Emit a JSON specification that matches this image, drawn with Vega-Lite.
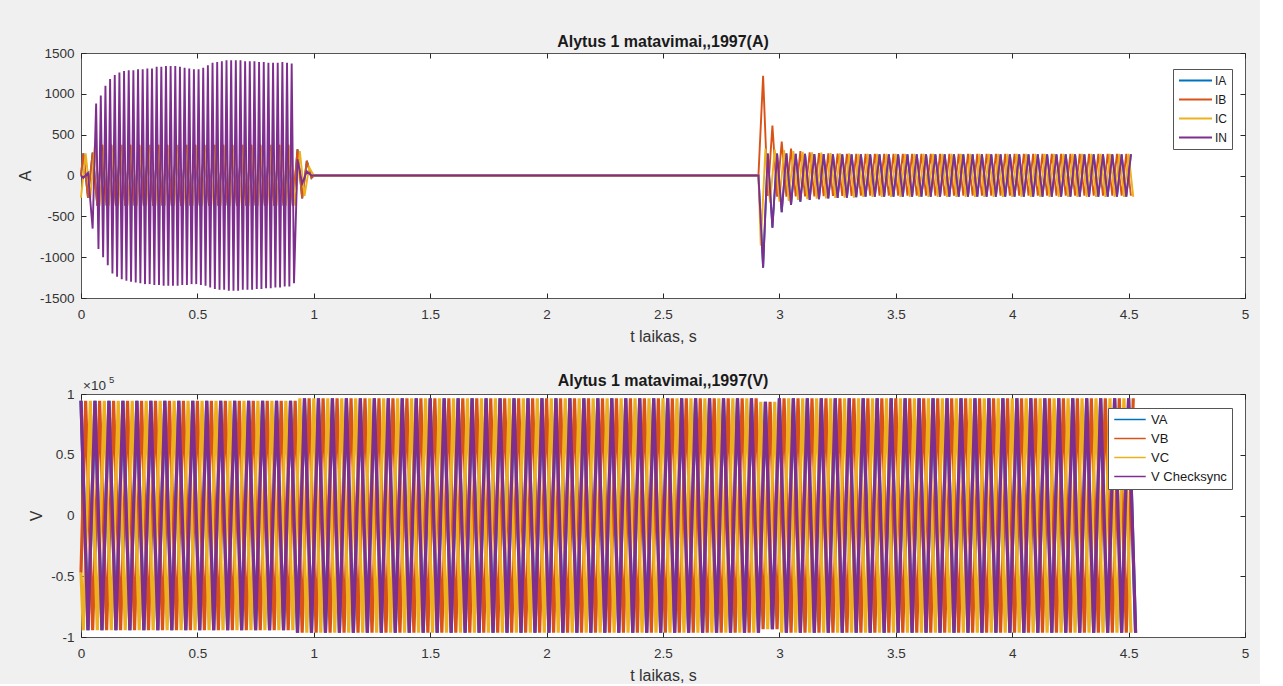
{
"$schema":"https://vega.github.io/schema/vega-lite/v6.json",
"background":"#f0f0f0",
"padding":{"left":16,"top":33,"right":10,"bottom":0},
"bounds":"flush",
"spacing":96,
"config":{
 "font":"Liberation Sans",
 "view":{"fill":"white","stroke":"#555555","strokeWidth":1},
 "axis":{"grid":false,"domain":false,"ticks":true,"tickColor":"#262626","tickSize":-5,"tickWidth":1,"labelColor":"#333333","labelFontSize":13.5,"titleColor":"#333333","titleFontSize":16,"titleFontWeight":"normal","labelFlush":false,"labelOverlap":false},
 "axisX":{"labelPadding":14,"titlePadding":8},
 "axisY":{"labelPadding":12,"minExtent":44,"maxExtent":44},
 "title":{"fontSize":16,"fontWeight":"bold","color":"#1a1a1a","anchor":"middle","frame":"group","baseline":"alphabetic"},
 "legend":{"orient":"none","symbolStrokeWidth":1.5,"labelFontSize":12,"labelColor":"#1a1a1a","fillColor":"white","strokeColor":"#555555","padding":5,"rowPadding":6}
},
"resolve":{"scale":{"color":"independent","y":"independent","strokeWidth":"independent"},"legend":{"color":"independent"}},
"vconcat":[
{
 "width":1164,"height":245,
 "title":{"text":"Alytus 1 matavimai,,1997(A)","offset":-4},
 "resolve":{"axis":{"x":"independent","y":"independent"}},
 "layer":[
 {
 "data":{"values":[
{"t":0,"IA":0,"IB":0,"IC":-270,"IN":0},{"t":0.01,"IA":270,"IB":270,"IN":-30},{"t":0.02,"IC":270},{"t":0.03,"IA":-270,"IB":-270,"IN":30},{"t":0.04,"IC":-270},{"t":0.05,"IA":280,"IB":280,"IN":-650},
{"t":0.06,"IC":375},{"t":0.07,"IA":-370,"IB":-370},{"t":0.08,"IC":-370},{"t":0.09,"IA":375,"IB":375},
{"t":0.10,"IC":375},{"t":0.11,"IA":-370,"IB":-370},{"t":0.12,"IC":-370},{"t":0.13,"IA":375,"IB":375},
{"t":0.14,"IC":375},{"t":0.15,"IA":-370,"IB":-370},{"t":0.16,"IC":-370},{"t":0.17,"IA":375,"IB":375},
{"t":0.18,"IC":375},{"t":0.19,"IA":-370,"IB":-370},{"t":0.20,"IC":-370},{"t":0.21,"IA":375,"IB":375},
{"t":0.22,"IC":375},{"t":0.23,"IA":-370,"IB":-370},{"t":0.24,"IC":-370},{"t":0.25,"IA":375,"IB":375},
{"t":0.26,"IC":375},{"t":0.27,"IA":-370,"IB":-370},{"t":0.28,"IC":-370},{"t":0.29,"IA":375,"IB":375},
{"t":0.30,"IC":375},{"t":0.31,"IA":-370,"IB":-370},{"t":0.32,"IC":-370},{"t":0.33,"IA":375,"IB":375},
{"t":0.34,"IC":375},{"t":0.35,"IA":-370,"IB":-370},{"t":0.36,"IC":-370},{"t":0.37,"IA":375,"IB":375},
{"t":0.38,"IC":375},{"t":0.39,"IA":-370,"IB":-370},{"t":0.40,"IC":-370},{"t":0.41,"IA":375,"IB":375},
{"t":0.42,"IC":375},{"t":0.43,"IA":-370,"IB":-370},{"t":0.44,"IC":-370},{"t":0.45,"IA":375,"IB":375},
{"t":0.46,"IC":375},{"t":0.47,"IA":-370,"IB":-370},{"t":0.48,"IC":-370},{"t":0.49,"IA":375,"IB":375},
{"t":0.50,"IC":375},{"t":0.51,"IA":-370,"IB":-370},{"t":0.52,"IC":-370},{"t":0.53,"IA":375,"IB":375},
{"t":0.54,"IC":375},{"t":0.55,"IA":-370,"IB":-370},{"t":0.56,"IC":-370},{"t":0.57,"IA":375,"IB":375},
{"t":0.58,"IC":375},{"t":0.59,"IA":-370,"IB":-370},{"t":0.60,"IC":-370},{"t":0.61,"IA":375,"IB":375},
{"t":0.62,"IC":375},{"t":0.63,"IA":-370,"IB":-370},{"t":0.64,"IC":-370},{"t":0.65,"IA":375,"IB":375},
{"t":0.66,"IC":375},{"t":0.67,"IA":-370,"IB":-370},{"t":0.68,"IC":-370},{"t":0.69,"IA":375,"IB":375},
{"t":0.70,"IC":375},{"t":0.71,"IA":-370,"IB":-370},{"t":0.72,"IC":-370},{"t":0.73,"IA":375,"IB":375},
{"t":0.74,"IC":375},{"t":0.75,"IA":-370,"IB":-370},{"t":0.76,"IC":-370},{"t":0.77,"IA":375,"IB":375},
{"t":0.78,"IC":375},{"t":0.79,"IA":-370,"IB":-370},{"t":0.80,"IC":-370},{"t":0.81,"IA":375,"IB":375},
{"t":0.82,"IC":375},{"t":0.83,"IA":-370,"IB":-370},{"t":0.84,"IC":-370},{"t":0.85,"IA":375,"IB":375},
{"t":0.86,"IC":375},{"t":0.87,"IA":-370,"IB":-370},{"t":0.88,"IC":-370},{"t":0.89,"IA":375,"IB":375},
{"t":0.90,"IC":375},{"t":0.91,"IA":-370,"IB":-370},{"t":0.92,"IC":-370},{"t":0.93,"IA":320,"IB":320,"IN":200},
{"t":0.94,"IC":300},{"t":0.95,"IA":-280,"IB":-280,"IN":-100},{"t":0.96,"IC":-250},{"t":0.97,"IA":180,"IB":180,"IN":50},{"t":0.98,"IC":100},{"t":0.99,"IA":-30,"IB":-30,"IN":0},
{"t":1.00,"IA":0,"IB":0,"IC":0,"IN":0},{"t":2.91,"IA":0,"IB":0,"IC":0,"IN":0},
{"t":0.065,"IN":880},{"t":0.075,"IN":-900},{"t":0.085,"IN":980},{"t":0.095,"IN":-1000},{"t":0.105,"IN":1100},{"t":0.115,"IN":-1100},{"t":0.125,"IN":1180},{"t":0.135,"IN":-1200},{"t":0.145,"IN":1230},{"t":0.155,"IN":-1240},
{"t":0.165,"IN":1260},{"t":0.175,"IN":-1270},{"t":0.185,"IN":1280},{"t":0.195,"IN":-1290},{"t":0.205,"IN":1290},{"t":0.215,"IN":-1300},{"t":0.225,"IN":1290},{"t":0.235,"IN":-1310},{"t":0.245,"IN":1300},{"t":0.255,"IN":-1320},
{"t":0.265,"IN":1300},{"t":0.275,"IN":-1330},{"t":0.285,"IN":1310},{"t":0.295,"IN":-1330},{"t":0.305,"IN":1310},{"t":0.315,"IN":-1340},{"t":0.325,"IN":1330},{"t":0.335,"IN":-1340},{"t":0.345,"IN":1330},{"t":0.355,"IN":-1350},
{"t":0.365,"IN":1340},{"t":0.375,"IN":-1350},{"t":0.385,"IN":1340},{"t":0.395,"IN":-1350},{"t":0.405,"IN":1340},{"t":0.415,"IN":-1350},{"t":0.425,"IN":1330},{"t":0.435,"IN":-1340},{"t":0.445,"IN":1320},{"t":0.455,"IN":-1340},
{"t":0.465,"IN":1310},{"t":0.475,"IN":-1330},{"t":0.485,"IN":1300},{"t":0.495,"IN":-1330},{"t":0.505,"IN":1300},{"t":0.515,"IN":-1340},{"t":0.525,"IN":1320},{"t":0.535,"IN":-1350},{"t":0.545,"IN":1350},{"t":0.555,"IN":-1370},
{"t":0.565,"IN":1380},{"t":0.575,"IN":-1390},{"t":0.585,"IN":1390},{"t":0.595,"IN":-1400},{"t":0.605,"IN":1400},{"t":0.615,"IN":-1400},{"t":0.625,"IN":1410},{"t":0.635,"IN":-1410},{"t":0.645,"IN":1410},{"t":0.655,"IN":-1410},
{"t":0.665,"IN":1410},{"t":0.675,"IN":-1410},{"t":0.685,"IN":1410},{"t":0.695,"IN":-1400},{"t":0.705,"IN":1400},{"t":0.715,"IN":-1400},{"t":0.725,"IN":1400},{"t":0.735,"IN":-1400},{"t":0.745,"IN":1400},{"t":0.755,"IN":-1390},
{"t":0.765,"IN":1390},{"t":0.775,"IN":-1390},{"t":0.785,"IN":1390},{"t":0.795,"IN":-1380},{"t":0.805,"IN":1380},{"t":0.815,"IN":-1380},{"t":0.825,"IN":1380},{"t":0.835,"IN":-1370},{"t":0.845,"IN":1380},{"t":0.855,"IN":-1370},
{"t":0.865,"IN":1390},{"t":0.875,"IN":-1360},{"t":0.885,"IN":1380},{"t":0.895,"IN":-1360},{"t":0.905,"IN":1370},{"t":0.915,"IN":-1320},
{"t":2.92,"IC":-860},{"t":2.93,"IA":-1130,"IB":1220,"IN":-1130},{"t":2.94,"IC":330},{"t":2.95,"IA":270,"IB":-250,"IN":270},{"t":2.96,"IC":-330},{"t":2.97,"IA":-640,"IB":610,"IN":-640},{"t":2.98,"IC":320},{"t":2.99,"IA":270,"IB":-260,"IN":270},
{"t":3.00,"IC":-320},{"t":3.01,"IA":-450,"IB":414,"IN":-450},{"t":3.02,"IC":310},{"t":3.03,"IA":270,"IB":-260,"IN":270},{"t":3.04,"IC":-310},{"t":3.05,"IA":-360,"IB":330,"IN":-360},{"t":3.06,"IC":300},{"t":3.07,"IA":265,"IB":-255,"IN":265},
{"t":3.08,"IC":-300},{"t":3.09,"IA":-320,"IB":300,"IN":-320},{"t":3.10,"IC":290},{"t":3.11,"IA":265,"IB":-255,"IN":265},{"t":3.12,"IC":-290},{"t":3.13,"IA":-300,"IB":285,"IN":-300},{"t":3.14,"IC":285},{"t":3.15,"IA":262,"IB":-255,"IN":262},
{"t":3.16,"IC":-285},{"t":3.17,"IA":-290,"IB":275,"IN":-290},{"t":3.18,"IC":280},{"t":3.19,"IA":262,"IB":-252,"IN":262},{"t":3.20,"IC":-280},{"t":3.21,"IA":-280,"IB":270,"IN":-280},{"t":3.22,"IC":275},{"t":3.23,"IA":260,"IB":-250,"IN":260},
{"t":3.24,"IC":-275},{"t":3.25,"IA":-275,"IB":268,"IN":-275},{"t":3.26,"IC":272},{"t":3.27,"IA":260,"IB":-250,"IN":260},{"t":3.28,"IC":-272},{"t":3.29,"IA":-270,"IB":266,"IN":-270},{"t":3.30,"IC":270},{"t":3.31,"IA":260,"IB":-250,"IN":260},
{"t":3.32,"IC":-270},{"t":3.33,"IA":-266,"IB":265,"IN":-266},{"t":3.34,"IC":265},{"t":3.35,"IA":260,"IB":-248,"IN":260},
{"t":3.36,"IC":-262},{"t":3.37,"IA":-258,"IB":264,"IN":-258},{"t":3.38,"IC":265},{"t":3.39,"IA":260,"IB":-248,"IN":260},
{"t":3.40,"IC":-262},{"t":3.41,"IA":-258,"IB":264,"IN":-258},{"t":3.42,"IC":265},{"t":3.43,"IA":260,"IB":-248,"IN":260},
{"t":3.44,"IC":-262},{"t":3.45,"IA":-258,"IB":264,"IN":-258},{"t":3.46,"IC":265},{"t":3.47,"IA":260,"IB":-248,"IN":260},
{"t":3.48,"IC":-262},{"t":3.49,"IA":-258,"IB":264,"IN":-258},{"t":3.50,"IC":265},{"t":3.51,"IA":260,"IB":-248,"IN":260},
{"t":3.52,"IC":-262},{"t":3.53,"IA":-258,"IB":264,"IN":-258},{"t":3.54,"IC":265},{"t":3.55,"IA":260,"IB":-248,"IN":260},
{"t":3.56,"IC":-262},{"t":3.57,"IA":-258,"IB":264,"IN":-258},{"t":3.58,"IC":265},{"t":3.59,"IA":260,"IB":-248,"IN":260},
{"t":3.60,"IC":-262},{"t":3.61,"IA":-258,"IB":264,"IN":-258},{"t":3.62,"IC":265},{"t":3.63,"IA":260,"IB":-248,"IN":260},
{"t":3.64,"IC":-262},{"t":3.65,"IA":-258,"IB":264,"IN":-258},{"t":3.66,"IC":265},{"t":3.67,"IA":260,"IB":-248,"IN":260},
{"t":3.68,"IC":-262},{"t":3.69,"IA":-258,"IB":264,"IN":-258},{"t":3.70,"IC":265},{"t":3.71,"IA":260,"IB":-248,"IN":260},
{"t":3.72,"IC":-262},{"t":3.73,"IA":-258,"IB":264,"IN":-258},{"t":3.74,"IC":265},{"t":3.75,"IA":260,"IB":-248,"IN":260},
{"t":3.76,"IC":-262},{"t":3.77,"IA":-258,"IB":264,"IN":-258},{"t":3.78,"IC":265},{"t":3.79,"IA":260,"IB":-248,"IN":260},
{"t":3.80,"IC":-262},{"t":3.81,"IA":-258,"IB":264,"IN":-258},{"t":3.82,"IC":265},{"t":3.83,"IA":260,"IB":-248,"IN":260},
{"t":3.84,"IC":-262},{"t":3.85,"IA":-258,"IB":264,"IN":-258},{"t":3.86,"IC":265},{"t":3.87,"IA":260,"IB":-248,"IN":260},
{"t":3.88,"IC":-262},{"t":3.89,"IA":-258,"IB":264,"IN":-258},{"t":3.90,"IC":265},{"t":3.91,"IA":260,"IB":-248,"IN":260},
{"t":3.92,"IC":-262},{"t":3.93,"IA":-258,"IB":264,"IN":-258},{"t":3.94,"IC":265},{"t":3.95,"IA":260,"IB":-248,"IN":260},
{"t":3.96,"IC":-262},{"t":3.97,"IA":-258,"IB":264,"IN":-258},{"t":3.98,"IC":265},{"t":3.99,"IA":260,"IB":-248,"IN":260},
{"t":4.00,"IC":-262},{"t":4.01,"IA":-258,"IB":264,"IN":-258},{"t":4.02,"IC":265},{"t":4.03,"IA":260,"IB":-248,"IN":260},
{"t":4.04,"IC":-262},{"t":4.05,"IA":-258,"IB":264,"IN":-258},{"t":4.06,"IC":265},{"t":4.07,"IA":260,"IB":-248,"IN":260},
{"t":4.08,"IC":-262},{"t":4.09,"IA":-258,"IB":264,"IN":-258},{"t":4.10,"IC":265},{"t":4.11,"IA":260,"IB":-248,"IN":260},
{"t":4.12,"IC":-262},{"t":4.13,"IA":-258,"IB":264,"IN":-258},{"t":4.14,"IC":265},{"t":4.15,"IA":260,"IB":-248,"IN":260},
{"t":4.16,"IC":-262},{"t":4.17,"IA":-258,"IB":264,"IN":-258},{"t":4.18,"IC":265},{"t":4.19,"IA":260,"IB":-248,"IN":260},
{"t":4.20,"IC":-262},{"t":4.21,"IA":-258,"IB":264,"IN":-258},{"t":4.22,"IC":265},{"t":4.23,"IA":260,"IB":-248,"IN":260},
{"t":4.24,"IC":-262},{"t":4.25,"IA":-258,"IB":264,"IN":-258},{"t":4.26,"IC":265},{"t":4.27,"IA":260,"IB":-248,"IN":260},
{"t":4.28,"IC":-262},{"t":4.29,"IA":-258,"IB":264,"IN":-258},{"t":4.30,"IC":265},{"t":4.31,"IA":260,"IB":-248,"IN":260},
{"t":4.32,"IC":-262},{"t":4.33,"IA":-258,"IB":264,"IN":-258},{"t":4.34,"IC":265},{"t":4.35,"IA":260,"IB":-248,"IN":260},
{"t":4.36,"IC":-262},{"t":4.37,"IA":-258,"IB":264,"IN":-258},{"t":4.38,"IC":265},{"t":4.39,"IA":260,"IB":-248,"IN":260},
{"t":4.40,"IC":-262},{"t":4.41,"IA":-258,"IB":264,"IN":-258},{"t":4.42,"IC":265},{"t":4.43,"IA":260,"IB":-248,"IN":260},
{"t":4.44,"IC":-262},{"t":4.45,"IA":-258,"IB":264,"IN":-258},{"t":4.46,"IC":265},{"t":4.47,"IA":260,"IB":-248,"IN":260},
{"t":4.48,"IC":-262},{"t":4.49,"IA":-258,"IB":264,"IN":-258},{"t":4.50,"IC":265},{"t":4.51,"IA":260,"IB":-248,"IN":260},
{"t":4.52,"IC":-262}
 ]},
 "transform":[{"fold":["IA","IB","IC","IN"],"as":["series","value"]},{"filter":"isValid(datum.value)"}],
 "mark":{"type":"line"},
 "encoding":{
  "x":{"field":"t","type":"quantitative","scale":{"domain":[0,5],"nice":false,"zero":false},"axis":{"title":"t laikas, s","values":[0,0.5,1,1.5,2,2.5,3,3.5,4,4.5,5],"labelExpr":"datum.value + ''"}},
  "y":{"field":"value","type":"quantitative","scale":{"domain":[-1500,1500],"nice":false},"axis":{"title":"A","values":[-1500,-1000,-500,0,500,1000,1500],"labelExpr":"datum.value + ''","titlePadding":4}},
  "color":{"field":"series","type":"nominal","scale":{"domain":["IA","IB","IC","IN"],"range":["#0072BD","#D95319","#EDB120","#7E2F8E"]},"legend":{"title":null,"legendX":1092,"legendY":16,"symbolType":"M-1,0H5","symbolSize":121,"labelOffset":24}},
  "strokeWidth":{"field":"series","type":"nominal","scale":{"domain":["IA","IB","IC","IN"],"range":[1.9,1.9,1.9,1.1]},"legend":null}
 }
 },
 {
 "data":{"values":[{"t":0,"value":0}]},
 "mark":{"type":"point","opacity":0},
 "encoding":{
  "x":{"field":"t","type":"quantitative","axis":{"orient":"top","labels":false,"title":null,"values":[0,0.5,1,1.5,2,2.5,3,3.5,4,4.5,5],"minExtent":0,"maxExtent":0}},
  "y":{"field":"value","type":"quantitative","axis":{"orient":"right","labels":false,"title":null,"values":[-1500,-1000,-500,0,500,1000,1500],"minExtent":0,"maxExtent":0}}
 }
 }
 ]
},
{
 "width":1164,"height":243,
 "title":{"text":"Alytus 1 matavimai,,1997(V)","offset":-14},
 "resolve":{"axis":{"x":"independent","y":"independent"}},
 "layer":[
 {
 "data":{"values":[
{"t":0,"VA":94500,"VB":-47000,"VC":-47000,"VS":94500},{"t":0.01,"VC":-94500},{"t":0.02,"VB":94500},{"t":0.03,"VA":-94500,"VS":-94500},{"t":0.04,"VC":94500},{"t":0.05,"VB":-94500},
{"t":0.06,"VA":94500,"VS":94500},{"t":0.07,"VC":-94500},{"t":0.08,"VB":94500},{"t":0.09,"VA":-94500,"VS":-94500},{"t":0.10,"VC":94500},{"t":0.11,"VB":-94500},
{"t":0.12,"VA":94500,"VS":94500},{"t":0.13,"VC":-94500},{"t":0.14,"VB":94500},{"t":0.15,"VA":-94500,"VS":-94500},{"t":0.16,"VC":94500},{"t":0.17,"VB":-94500},
{"t":0.18,"VA":94500,"VS":94500},{"t":0.19,"VC":-94500},{"t":0.20,"VB":94500},{"t":0.21,"VA":-94500,"VS":-94500},{"t":0.22,"VC":94500},{"t":0.23,"VB":-94500},
{"t":0.24,"VA":94500,"VS":94500},{"t":0.25,"VC":-94500},{"t":0.26,"VB":94500},{"t":0.27,"VA":-94500,"VS":-94500},{"t":0.28,"VC":94500},{"t":0.29,"VB":-94500},
{"t":0.30,"VA":94500,"VS":94500},{"t":0.31,"VC":-94500},{"t":0.32,"VB":94500},{"t":0.33,"VA":-94500,"VS":-94500},{"t":0.34,"VC":94500},{"t":0.35,"VB":-94500},
{"t":0.36,"VA":94500,"VS":94500},{"t":0.37,"VC":-94500},{"t":0.38,"VB":94500},{"t":0.39,"VA":-94500,"VS":-94500},{"t":0.40,"VC":94500},{"t":0.41,"VB":-94500},
{"t":0.42,"VA":94500,"VS":94500},{"t":0.43,"VC":-94500},{"t":0.44,"VB":94500},{"t":0.45,"VA":-94500,"VS":-94500},{"t":0.46,"VC":94500},{"t":0.47,"VB":-94500},
{"t":0.48,"VA":94500,"VS":94500},{"t":0.49,"VC":-94500},{"t":0.50,"VB":94500},{"t":0.51,"VA":-94500,"VS":-94500},{"t":0.52,"VC":94500},{"t":0.53,"VB":-94500},
{"t":0.54,"VA":94500,"VS":94500},{"t":0.55,"VC":-94500},{"t":0.56,"VB":94500},{"t":0.57,"VA":-94500,"VS":-94500},{"t":0.58,"VC":94500},{"t":0.59,"VB":-94500},
{"t":0.60,"VA":94500,"VS":94500},{"t":0.61,"VC":-94500},{"t":0.62,"VB":94500},{"t":0.63,"VA":-94500,"VS":-94500},{"t":0.64,"VC":94500},{"t":0.65,"VB":-94500},
{"t":0.66,"VA":94500,"VS":94500},{"t":0.67,"VC":-94500},{"t":0.68,"VB":94500},{"t":0.69,"VA":-94500,"VS":-94500},{"t":0.70,"VC":94500},{"t":0.71,"VB":-94500},
{"t":0.72,"VA":94500,"VS":94500},{"t":0.73,"VC":-94500},{"t":0.74,"VB":94500},{"t":0.75,"VA":-94500,"VS":-94500},{"t":0.76,"VC":94500},{"t":0.77,"VB":-94500},
{"t":0.78,"VA":94500,"VS":94500},{"t":0.79,"VC":-94500},{"t":0.80,"VB":94500},{"t":0.81,"VA":-94500,"VS":-94500},{"t":0.82,"VC":94500},{"t":0.83,"VB":-94500},
{"t":0.84,"VA":94500,"VS":94500},{"t":0.85,"VC":-94500},{"t":0.86,"VB":94500},{"t":0.87,"VA":-94500,"VS":-94500},{"t":0.88,"VC":94500},{"t":0.89,"VB":-94500},
{"t":0.90,"VA":94500,"VS":94500},{"t":0.91,"VC":-94500},{"t":0.92,"VB":94500},{"t":0.93,"VA":-96500,"VS":-96500},{"t":0.94,"VC":96500},{"t":0.95,"VB":-96500},
{"t":0.96,"VA":96500,"VS":96500},{"t":0.97,"VC":-96500},{"t":0.98,"VB":96500},{"t":0.99,"VA":-96500,"VS":-96500},{"t":1.00,"VC":96500},{"t":1.01,"VB":-96500},
{"t":1.02,"VA":96500,"VS":96500},{"t":1.03,"VC":-96500},{"t":1.04,"VB":96500},{"t":1.05,"VA":-96500,"VS":-96500},{"t":1.06,"VC":96500},{"t":1.07,"VB":-96500},
{"t":1.08,"VA":96500,"VS":96500},{"t":1.09,"VC":-96500},{"t":1.10,"VB":96500},{"t":1.11,"VA":-96500,"VS":-96500},{"t":1.12,"VC":96500},{"t":1.13,"VB":-96500},
{"t":1.14,"VA":96500,"VS":96500},{"t":1.15,"VC":-96500},{"t":1.16,"VB":96500},{"t":1.17,"VA":-96500,"VS":-96500},{"t":1.18,"VC":96500},{"t":1.19,"VB":-96500},
{"t":1.20,"VA":96500,"VS":96500},{"t":1.21,"VC":-96500},{"t":1.22,"VB":96500},{"t":1.23,"VA":-96500,"VS":-96500},{"t":1.24,"VC":96500},{"t":1.25,"VB":-96500},
{"t":1.26,"VA":96500,"VS":96500},{"t":1.27,"VC":-96500},{"t":1.28,"VB":96500},{"t":1.29,"VA":-96500,"VS":-96500},{"t":1.30,"VC":96500},{"t":1.31,"VB":-96500},
{"t":1.32,"VA":96500,"VS":96500},{"t":1.33,"VC":-96500},{"t":1.34,"VB":96500},{"t":1.35,"VA":-96500,"VS":-96500},{"t":1.36,"VC":96500},{"t":1.37,"VB":-96500},
{"t":1.38,"VA":96500,"VS":96500},{"t":1.39,"VC":-96500},{"t":1.40,"VB":96500},{"t":1.41,"VA":-96500,"VS":-96500},{"t":1.42,"VC":96500},{"t":1.43,"VB":-96500},
{"t":1.44,"VA":96500,"VS":96500},{"t":1.45,"VC":-96500},{"t":1.46,"VB":96500},{"t":1.47,"VA":-96500,"VS":-96500},{"t":1.48,"VC":96500},{"t":1.49,"VB":-96500},
{"t":1.50,"VA":96500,"VS":96500},{"t":1.51,"VC":-96500},{"t":1.52,"VB":96500},{"t":1.53,"VA":-96500,"VS":-96500},{"t":1.54,"VC":96500},{"t":1.55,"VB":-96500},
{"t":1.56,"VA":96500,"VS":96500},{"t":1.57,"VC":-96500},{"t":1.58,"VB":96500},{"t":1.59,"VA":-96500,"VS":-96500},{"t":1.60,"VC":96500},{"t":1.61,"VB":-96500},
{"t":1.62,"VA":96500,"VS":96500},{"t":1.63,"VC":-96500},{"t":1.64,"VB":96500},{"t":1.65,"VA":-96500,"VS":-96500},{"t":1.66,"VC":96500},{"t":1.67,"VB":-96500},
{"t":1.68,"VA":96500,"VS":96500},{"t":1.69,"VC":-96500},{"t":1.70,"VB":96500},{"t":1.71,"VA":-96500,"VS":-96500},{"t":1.72,"VC":96500},{"t":1.73,"VB":-96500},
{"t":1.74,"VA":96500,"VS":96500},{"t":1.75,"VC":-96500},{"t":1.76,"VB":96500},{"t":1.77,"VA":-96500,"VS":-96500},{"t":1.78,"VC":96500},{"t":1.79,"VB":-96500},
{"t":1.80,"VA":96500,"VS":96500},{"t":1.81,"VC":-96500},{"t":1.82,"VB":96500},{"t":1.83,"VA":-96500,"VS":-96500},{"t":1.84,"VC":96500},{"t":1.85,"VB":-96500},
{"t":1.86,"VA":96500,"VS":96500},{"t":1.87,"VC":-96500},{"t":1.88,"VB":96500},{"t":1.89,"VA":-96500,"VS":-96500},{"t":1.90,"VC":96500},{"t":1.91,"VB":-96500},
{"t":1.92,"VA":96500,"VS":96500},{"t":1.93,"VC":-96500},{"t":1.94,"VB":96500},{"t":1.95,"VA":-96500,"VS":-96500},{"t":1.96,"VC":96500},{"t":1.97,"VB":-96500},
{"t":1.98,"VA":96500,"VS":96500},{"t":1.99,"VC":-96500},{"t":2.00,"VB":96500},{"t":2.01,"VA":-96500,"VS":-96500},{"t":2.02,"VC":96500},{"t":2.03,"VB":-96500},
{"t":2.04,"VA":96500,"VS":96500},{"t":2.05,"VC":-96500},{"t":2.06,"VB":96500},{"t":2.07,"VA":-96500,"VS":-96500},{"t":2.08,"VC":96500},{"t":2.09,"VB":-96500},
{"t":2.10,"VA":96500,"VS":96500},{"t":2.11,"VC":-96500},{"t":2.12,"VB":96500},{"t":2.13,"VA":-96500,"VS":-96500},{"t":2.14,"VC":96500},{"t":2.15,"VB":-96500},
{"t":2.16,"VA":96500,"VS":96500},{"t":2.17,"VC":-96500},{"t":2.18,"VB":96500},{"t":2.19,"VA":-96500,"VS":-96500},{"t":2.20,"VC":96500},{"t":2.21,"VB":-96500},
{"t":2.22,"VA":96500,"VS":96500},{"t":2.23,"VC":-96500},{"t":2.24,"VB":96500},{"t":2.25,"VA":-96500,"VS":-96500},{"t":2.26,"VC":96500},{"t":2.27,"VB":-96500},
{"t":2.28,"VA":96500,"VS":96500},{"t":2.29,"VC":-96500},{"t":2.30,"VB":96500},{"t":2.31,"VA":-96500,"VS":-96500},{"t":2.32,"VC":96500},{"t":2.33,"VB":-96500},
{"t":2.34,"VA":96500,"VS":96500},{"t":2.35,"VC":-96500},{"t":2.36,"VB":96500},{"t":2.37,"VA":-96500,"VS":-96500},{"t":2.38,"VC":96500},{"t":2.39,"VB":-96500},
{"t":2.40,"VA":96500,"VS":96500},{"t":2.41,"VC":-96500},{"t":2.42,"VB":96500},{"t":2.43,"VA":-96500,"VS":-96500},{"t":2.44,"VC":96500},{"t":2.45,"VB":-96500},
{"t":2.46,"VA":96500,"VS":96500},{"t":2.47,"VC":-96500},{"t":2.48,"VB":96500},{"t":2.49,"VA":-96500,"VS":-96500},{"t":2.50,"VC":96500},{"t":2.51,"VB":-96500},
{"t":2.52,"VA":96500,"VS":96500},{"t":2.53,"VC":-96500},{"t":2.54,"VB":96500},{"t":2.55,"VA":-96500,"VS":-96500},{"t":2.56,"VC":96500},{"t":2.57,"VB":-96500},
{"t":2.58,"VA":96500,"VS":96500},{"t":2.59,"VC":-96500},{"t":2.60,"VB":96500},{"t":2.61,"VA":-96500,"VS":-96500},{"t":2.62,"VC":96500},{"t":2.63,"VB":-96500},
{"t":2.64,"VA":96500,"VS":96500},{"t":2.65,"VC":-96500},{"t":2.66,"VB":96500},{"t":2.67,"VA":-96500,"VS":-96500},{"t":2.68,"VC":96500},{"t":2.69,"VB":-96500},
{"t":2.70,"VA":96500,"VS":96500},{"t":2.71,"VC":-96500},{"t":2.72,"VB":96500},{"t":2.73,"VA":-96500,"VS":-96500},{"t":2.74,"VC":96500},{"t":2.75,"VB":-96500},
{"t":2.76,"VA":96500,"VS":96500},{"t":2.77,"VC":-96500},{"t":2.78,"VB":96500},{"t":2.79,"VA":-96500,"VS":-96500},{"t":2.80,"VC":96500},{"t":2.81,"VB":-96500},
{"t":2.82,"VA":96500,"VS":96500},{"t":2.83,"VC":-96500},{"t":2.84,"VB":96500},{"t":2.85,"VA":-96500,"VS":-96500},{"t":2.86,"VC":96500},{"t":2.87,"VB":-96500},
{"t":2.88,"VA":96500,"VS":96500},{"t":2.89,"VC":-96500},{"t":2.90,"VB":96500},{"t":2.91,"VA":-96500,"VS":-96500},{"t":2.92,"VC":93500},{"t":2.93,"VB":-93500},
{"t":2.94,"VA":93500,"VS":93500},{"t":2.95,"VC":-93500},{"t":2.96,"VB":93500},{"t":2.97,"VA":-93500,"VS":-93500},{"t":2.98,"VC":93500},{"t":2.99,"VB":-93500},
{"t":3.00,"VA":96500,"VS":96500},{"t":3.01,"VC":-96500},{"t":3.02,"VB":96500},{"t":3.03,"VA":-96500,"VS":-96500},{"t":3.04,"VC":96500},{"t":3.05,"VB":-96500},
{"t":3.06,"VA":96500,"VS":96500},{"t":3.07,"VC":-96500},{"t":3.08,"VB":96500},{"t":3.09,"VA":-96500,"VS":-96500},{"t":3.10,"VC":96500},{"t":3.11,"VB":-96500},
{"t":3.12,"VA":96500,"VS":96500},{"t":3.13,"VC":-96500},{"t":3.14,"VB":96500},{"t":3.15,"VA":-96500,"VS":-96500},{"t":3.16,"VC":96500},{"t":3.17,"VB":-96500},
{"t":3.18,"VA":96500,"VS":96500},{"t":3.19,"VC":-96500},{"t":3.20,"VB":96500},{"t":3.21,"VA":-96500,"VS":-96500},{"t":3.22,"VC":96500},{"t":3.23,"VB":-96500},
{"t":3.24,"VA":96500,"VS":96500},{"t":3.25,"VC":-96500},{"t":3.26,"VB":96500},{"t":3.27,"VA":-96500,"VS":-96500},{"t":3.28,"VC":96500},{"t":3.29,"VB":-96500},
{"t":3.30,"VA":96500,"VS":96500},{"t":3.31,"VC":-96500},{"t":3.32,"VB":96500},{"t":3.33,"VA":-96500,"VS":-96500},{"t":3.34,"VC":96500},{"t":3.35,"VB":-96500},
{"t":3.36,"VA":96500,"VS":96500},{"t":3.37,"VC":-96500},{"t":3.38,"VB":96500},{"t":3.39,"VA":-96500,"VS":-96500},{"t":3.40,"VC":96500},{"t":3.41,"VB":-96500},
{"t":3.42,"VA":96500,"VS":96500},{"t":3.43,"VC":-96500},{"t":3.44,"VB":96500},{"t":3.45,"VA":-96500,"VS":-96500},{"t":3.46,"VC":96500},{"t":3.47,"VB":-96500},
{"t":3.48,"VA":96500,"VS":96500},{"t":3.49,"VC":-96500},{"t":3.50,"VB":96500},{"t":3.51,"VA":-96500,"VS":-96500},{"t":3.52,"VC":96500},{"t":3.53,"VB":-96500},
{"t":3.54,"VA":96500,"VS":96500},{"t":3.55,"VC":-96500},{"t":3.56,"VB":96500},{"t":3.57,"VA":-96500,"VS":-96500},{"t":3.58,"VC":96500},{"t":3.59,"VB":-96500},
{"t":3.60,"VA":96500,"VS":96500},{"t":3.61,"VC":-96500},{"t":3.62,"VB":96500},{"t":3.63,"VA":-96500,"VS":-96500},{"t":3.64,"VC":96500},{"t":3.65,"VB":-96500},
{"t":3.66,"VA":96500,"VS":96500},{"t":3.67,"VC":-96500},{"t":3.68,"VB":96500},{"t":3.69,"VA":-96500,"VS":-96500},{"t":3.70,"VC":96500},{"t":3.71,"VB":-96500},
{"t":3.72,"VA":96500,"VS":96500},{"t":3.73,"VC":-96500},{"t":3.74,"VB":96500},{"t":3.75,"VA":-96500,"VS":-96500},{"t":3.76,"VC":96500},{"t":3.77,"VB":-96500},
{"t":3.78,"VA":96500,"VS":96500},{"t":3.79,"VC":-96500},{"t":3.80,"VB":96500},{"t":3.81,"VA":-96500,"VS":-96500},{"t":3.82,"VC":96500},{"t":3.83,"VB":-96500},
{"t":3.84,"VA":96500,"VS":96500},{"t":3.85,"VC":-96500},{"t":3.86,"VB":96500},{"t":3.87,"VA":-96500,"VS":-96500},{"t":3.88,"VC":96500},{"t":3.89,"VB":-96500},
{"t":3.90,"VA":96500,"VS":96500},{"t":3.91,"VC":-96500},{"t":3.92,"VB":96500},{"t":3.93,"VA":-96500,"VS":-96500},{"t":3.94,"VC":96500},{"t":3.95,"VB":-96500},
{"t":3.96,"VA":96500,"VS":96500},{"t":3.97,"VC":-96500},{"t":3.98,"VB":96500},{"t":3.99,"VA":-96500,"VS":-96500},{"t":4.00,"VC":96500},{"t":4.01,"VB":-96500},
{"t":4.02,"VA":96500,"VS":96500},{"t":4.03,"VC":-96500},{"t":4.04,"VB":96500},{"t":4.05,"VA":-96500,"VS":-96500},{"t":4.06,"VC":96500},{"t":4.07,"VB":-96500},
{"t":4.08,"VA":96500,"VS":96500},{"t":4.09,"VC":-96500},{"t":4.10,"VB":96500},{"t":4.11,"VA":-96500,"VS":-96500},{"t":4.12,"VC":96500},{"t":4.13,"VB":-96500},
{"t":4.14,"VA":96500,"VS":96500},{"t":4.15,"VC":-96500},{"t":4.16,"VB":96500},{"t":4.17,"VA":-96500,"VS":-96500},{"t":4.18,"VC":96500},{"t":4.19,"VB":-96500},
{"t":4.20,"VA":96500,"VS":96500},{"t":4.21,"VC":-96500},{"t":4.22,"VB":96500},{"t":4.23,"VA":-96500,"VS":-96500},{"t":4.24,"VC":96500},{"t":4.25,"VB":-96500},
{"t":4.26,"VA":96500,"VS":96500},{"t":4.27,"VC":-96500},{"t":4.28,"VB":96500},{"t":4.29,"VA":-96500,"VS":-96500},{"t":4.30,"VC":96500},{"t":4.31,"VB":-96500},
{"t":4.32,"VA":96500,"VS":96500},{"t":4.33,"VC":-96500},{"t":4.34,"VB":96500},{"t":4.35,"VA":-96500,"VS":-96500},{"t":4.36,"VC":96500},{"t":4.37,"VB":-96500},
{"t":4.38,"VA":96500,"VS":96500},{"t":4.39,"VC":-96500},{"t":4.40,"VB":96500},{"t":4.41,"VA":-96500,"VS":-96500},{"t":4.42,"VC":96500},{"t":4.43,"VB":-96500},
{"t":4.44,"VA":96500,"VS":96500},{"t":4.45,"VC":-96500},{"t":4.46,"VB":96500},{"t":4.47,"VA":-96500,"VS":-96500},{"t":4.48,"VC":96500},{"t":4.49,"VB":-96500},
{"t":4.50,"VA":96500,"VS":96500},{"t":4.51,"VC":-96500},{"t":4.52,"VB":96500},{"t":4.53,"VA":-96500,"VS":-96500}
 ]},
 "transform":[{"fold":["VA","VB","VC","VS"],"as":["series","value"]},{"filter":"isValid(datum.value)"}],
 "mark":{"type":"line","strokeWidth":3.2},
 "encoding":{
  "x":{"field":"t","type":"quantitative","scale":{"domain":[0,5],"nice":false,"zero":false},"axis":{"title":"t laikas, s","values":[0,0.5,1,1.5,2,2.5,3,3.5,4,4.5,5],"labelExpr":"datum.value + ''"}},
  "y":{"field":"value","type":"quantitative","scale":{"domain":[-100000,100000],"nice":false},"axis":{"title":"V","values":[-100000,-50000,0,50000,100000],"labelExpr":"(datum.value / 100000) + ''","titlePadding":-7}},
  "color":{"field":"series","type":"nominal","scale":{"domain":["VA","VB","VC","VS"],"range":["#0072BD","#D95319","#EDB120","#7E2F8E"]},"legend":{"title":null,"legendX":1027,"legendY":14,"symbolType":"M-1,0H5","symbolSize":110,"labelFontSize":13,"rowPadding":5,"labelOffset":25,"labelExpr":"datum.label == 'VS' ? 'V Checksync' : datum.label"}}
 }
 },
 {"data":{"values":[{"txt":"×10"}]},"mark":{"type":"text","align":"left","baseline":"alphabetic","dx":2,"dy":-4,"fontSize":13.5,"color":"#333333"},"encoding":{"x":{"datum":0,"axis":null},"y":{"datum":100000,"axis":null},"text":{"field":"txt"}}},
 {"data":{"values":[{"txt":"5"}]},"mark":{"type":"text","align":"left","baseline":"alphabetic","dx":28,"dy":-11,"fontSize":9.5,"color":"#333333"},"encoding":{"x":{"datum":0,"axis":null},"y":{"datum":100000,"axis":null},"text":{"field":"txt"}}},
 {
 "data":{"values":[{"t":0,"value":0}]},
 "mark":{"type":"point","opacity":0},
 "encoding":{
  "x":{"field":"t","type":"quantitative","axis":{"orient":"top","labels":false,"title":null,"values":[0,0.5,1,1.5,2,2.5,3,3.5,4,4.5,5],"minExtent":0,"maxExtent":0}},
  "y":{"field":"value","type":"quantitative","axis":{"orient":"right","labels":false,"title":null,"values":[-100000,-50000,0,50000,100000],"minExtent":0,"maxExtent":0}}
 }
 }
 ]
}
]
}
